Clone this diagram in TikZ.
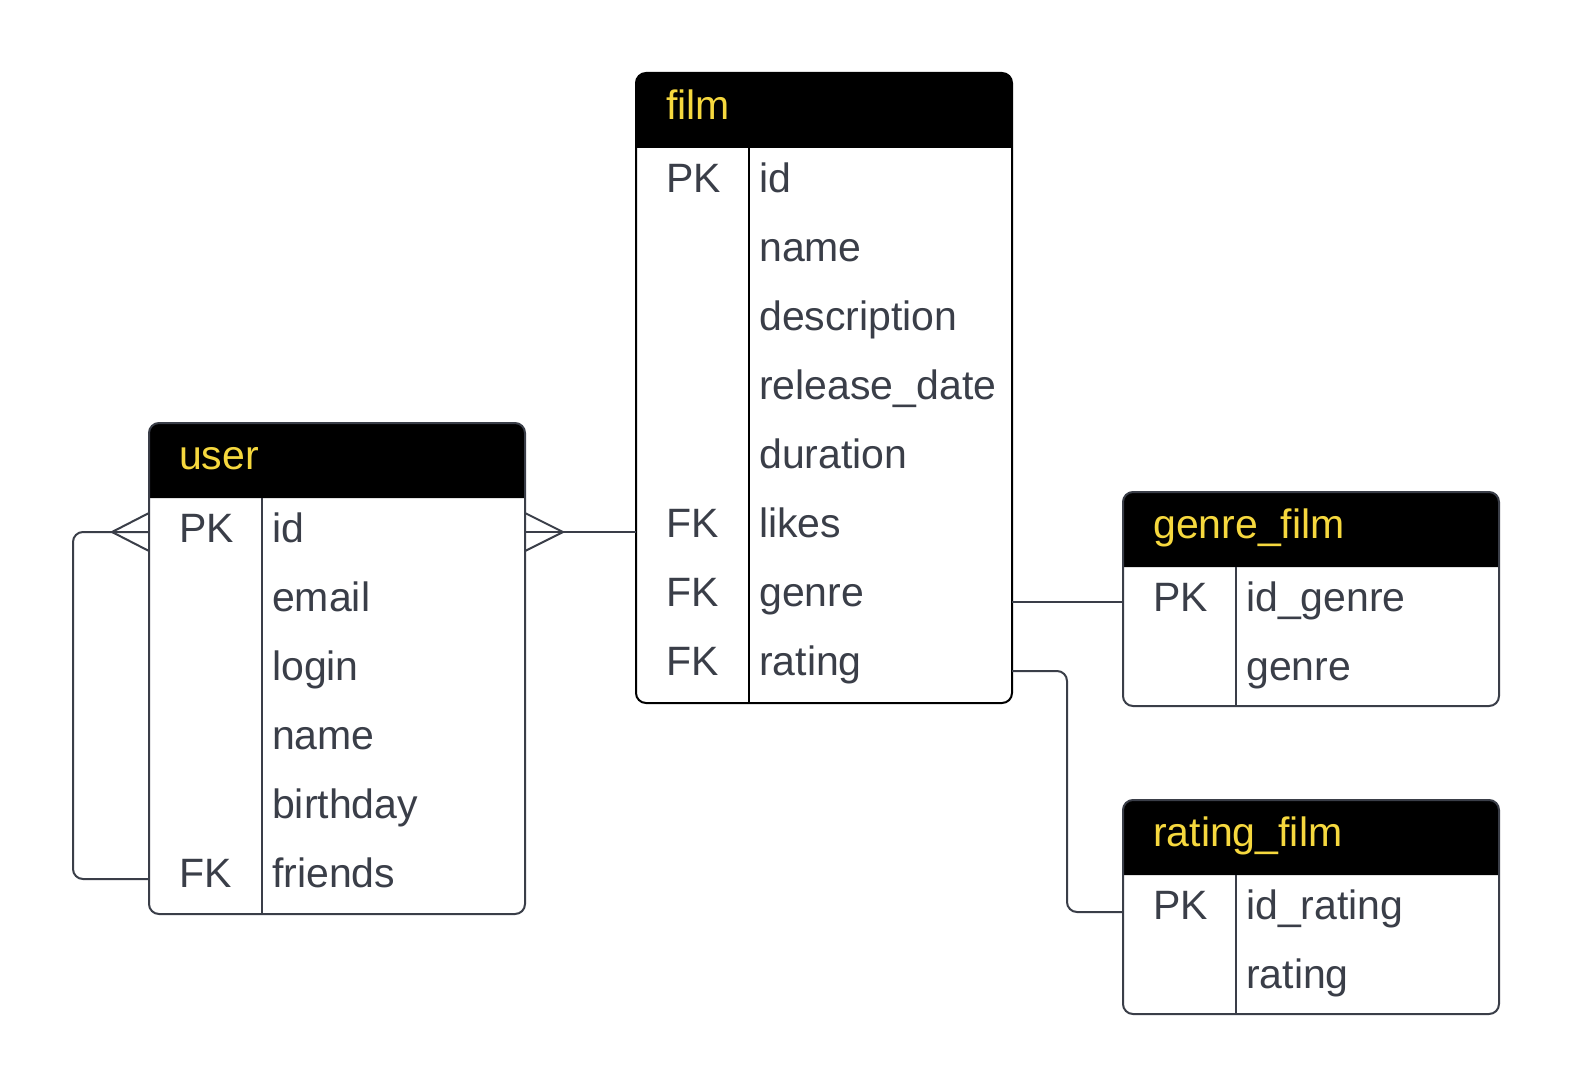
\documentclass[tikz,border=0pt]{standalone}
\usepackage{fontspec}
\setmainfont{Liberation Sans}
\definecolor{txt}{RGB}{58,62,72}
\definecolor{hdr}{RGB}{246,216,62}
\tikzset{
  tblbody/.style={fill=white, minimum width=376pt, inner sep=0pt, outer sep=0pt, anchor=north west, rounded corners=10pt},
  cell/.style={anchor=base west, inner sep=0pt, text=txt, font=\fontsize{41}{49}\selectfont},
  head/.style={anchor=base west, inner sep=0pt, text=hdr, font=\fontsize{41}{49}\selectfont},
  conn/.style={draw=txt, line width=2pt, rounded corners=10pt},
  crow/.style={draw=txt, line width=2pt, line join=miter},
}
% #1 name, #2 x, #3 y, #4 height, #5 border colour
\newcommand\ertable[5]{%
  \node[tblbody, minimum height=#4pt] (#1) at (#2,#3) {};
  \fill[black] ([yshift=-75pt]#1.north west) [rounded corners=10pt] -- (#1.north west) -- (#1.north east) [sharp corners] -- ([yshift=-75pt]#1.north east) -- cycle;
  \draw[#5, line width=2pt] ([xshift=113pt,yshift=-75pt]#1.north west) -- ([xshift=113pt]#1.south west);
  \draw[#5, line width=2pt, rounded corners=10pt] (#1.north west) rectangle (#1.south east);
}
\begin{document}
\begin{tikzpicture}[x=1pt,y=-1pt]
\useasboundingbox[fill=white] (0,0) rectangle (1577,1089);

% tables
\ertable{user}{149}{423}{491}{txt}
\ertable{film}{636}{73}{630}{black}
\ertable{genre}{1123}{492}{214}{txt}
\ertable{rating}{1123}{800}{214}{txt}

% headers
\node[head] (user-h) at (179,469) {user};
\node[head] (film-h) at (666,120) {film};
\node[head] (genre-h) at (1153,538) {genre\_film};
\node[head] (rating-h) at (1153,846) {rating\_film};

% user rows
\node[cell] (user-k1) at (179,542) {PK};
\node[cell] (user-k6) at (179,887) {FK};
\foreach \t [count=\i] in {id,email,login,name,birthday,friends}
  \node[cell] (user-f\i) at (272,{542+69*(\i-1)}) {\t};

% film rows
\node[cell] (film-k1) at (666,192) {PK};
\node[cell] (film-k6) at (666,537) {FK};
\node[cell] (film-k7) at (666,606) {FK};
\node[cell] (film-k8) at (666,675) {FK};
\foreach \t [count=\i] in {id,name,description,release\_date,duration,likes,genre,rating}
  \node[cell] (film-f\i) at (759,{192+69*(\i-1)}) {\t};

% genre_film rows
\node[cell] (genre-k1) at (1153,611) {PK};
\node[cell] (genre-f1) at (1246,611) {id\_genre};
\node[cell] (genre-f2) at (1246,680) {genre};

% rating_film rows
\node[cell] (rating-k1) at (1153,919) {PK};
\node[cell] (rating-f1) at (1246,919) {id\_rating};
\node[cell] (rating-f2) at (1246,988) {rating};

% connector end points
\coordinate (uPKe) at (user.east |- 0,532);
\coordinate (uPKw) at (user.west |- 0,532);
\coordinate (uFKw) at (user.west |- 0,879);
\coordinate (fLikes) at (film.west |- 0,532);
\coordinate (fGenre) at (film.east |- 0,602);
\coordinate (fRating) at (film.east |- 0,671);
\coordinate (gPK) at (genre.west |- 0,602);
\coordinate (rPK) at (rating.west |- 0,912);

% user -- film (likes)
\draw[conn] (uPKe) -- (fLikes);
\draw[crow] ([yshift=19pt]uPKe) -- ([xshift=38pt]uPKe) -- ([yshift=-19pt]uPKe);

% user self relation (friends)
\draw[conn] (uPKw) -- ([xshift=-76pt]uPKw) -- ([xshift=-76pt]uFKw) -- (uFKw);
\draw[crow] ([yshift=19pt]uPKw) -- ([xshift=-37pt]uPKw) -- ([yshift=-19pt]uPKw);

% film -- genre_film
\draw[conn] (fGenre) -- (gPK);

% film -- rating_film
\draw[conn] (fRating) -- ([xshift=55pt]fRating) -- ([xshift=-56pt]rPK) -- (rPK);
\end{tikzpicture}
\end{document}
